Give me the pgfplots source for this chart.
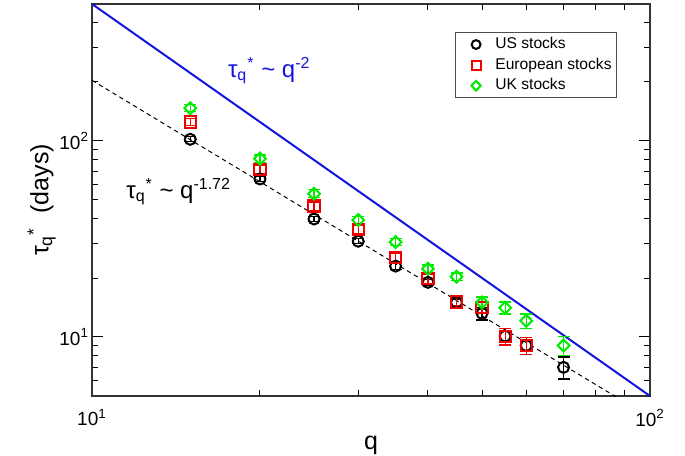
\documentclass[border=0pt]{standalone}
\usepackage{fontspec}
\setmainfont{Liberation Sans}
\usepackage{pgfplots}
\pgfplotsset{compat=1.18}
\definecolor{myblue}{RGB}{20,20,225}
\definecolor{mygreen}{RGB}{0,235,0}
\definecolor{myred}{RGB}{240,0,0}
\begin{document}
\begin{tikzpicture}
\begin{axis}[name=ax,
  xmode=log, ymode=log, scale only axis,
  width=279pt, height=196pt,
  xmin=10, xmax=100, ymin=5, ymax=500,
  xtick={10,100}, xticklabels={10\textsuperscript{1},10\textsuperscript{2}},
  ytick={10,100}, yticklabels={10\textsuperscript{1},10\textsuperscript{2}},
  minor xtick={20,30,40,50,60,70,80,90},
  minor ytick={6,7,8,9,20,30,40,50,60,70,80,90,200,300,400},
  tick align=inside,
  major tick length=5.5pt, minor tick length=3pt,
  tick style={black, line width=0.5pt},
  axis line style={line width=0.6pt, black!80},
  ticklabel style={font=\fontsize{9.5}{11}\selectfont},
  xticklabel style={yshift=-3pt},
  yticklabel style={xshift=2pt},
  xlabel={q}, ylabel={τ\textsubscript{q}\textsuperscript{*}\ \ (days)},
  label style={font=\fontsize{12.5}{14}\selectfont},
  xlabel style={yshift=2pt},
  ylabel style={yshift=-5pt},
  legend style={at={(0.941,0.929)}, anchor=north east,
    font=\fontsize{7.8}{9}\selectfont, draw=black!70, line width=0.5pt,
    row sep=2.5pt, inner xsep=2pt, inner ysep=2.2pt,
    nodes={inner xsep=0.5pt, inner ysep=0pt, text height=6pt, text depth=1.8pt},
    /tikz/every odd column/.append style={column sep=6.8pt}},
  legend image code/.code={\path (-1.5pt,0pt);
    \draw[mark repeat=2,mark phase=2,#1] plot coordinates {(0cm,0cm) (0.3cm,0cm) (0.6cm,0cm)};},
  legend image post style={scale=0.8},
  legend cell align=left,
  clip=true,
]
\addplot[myblue, line width=1pt, forget plot] coordinates {(10,500) (100,5)};
\addplot[black, line width=0.5pt, dash pattern=on 2.2pt off 1.8pt, forget plot] coordinates {(10,204) (100,3.89)};

\addplot[black, only marks, mark=o, mark size=2.75pt, mark options={line width=1pt},
  error bars/.cd, y dir=both, y explicit,
  error mark options={rotate=90, mark size=3pt, line width=0.6pt},
  error bar style={line width=0.6pt}]
  coordinates {
  (15,102) +- (0,3)
  (20,64) +- (0,2)
  (25,40) +- (0,1.2)
  (30,30.8) +- (0,0.9)
  (35,23) +- (0,0.8)
  (40,19) +- (0,0.7)
  (45,15) +- (0,0.5)
  (50,13.2) +- (0,1.0)
  (55,10.1) +- (0,0.6)
  (60,9.05) +- (0,0.6)
  (70,7.0) +- (0,0.9)
  };
\addlegendentry{US stocks}

\addplot[myred, only marks, mark=square, mark size=2.8pt, mark options={line width=1pt},
  error bars/.cd, y dir=both, y explicit,
  error mark options={rotate=90, mark size=3pt, line width=0.6pt},
  error bar style={line width=0.6pt}]
  coordinates {
  (15,125) +- (0,5)
  (20,71.6) +- (0,3.5)
  (25,46.6) +- (0,2.2)
  (30,35.4) +- (0,1.6)
  (35,25.4) +- (0,1.2)
  (40,19.8) +- (0,1.0)
  (45,15.1) +- (0,0.7)
  (50,14.2) +- (0,1.0)
  (55,10.1) +- (0,1.0)
  (60,9.05) +- (0,0.9)
  };
\addlegendentry{European stocks}

\addplot[mygreen, only marks, mark=diamond, mark size=3pt, mark options={line width=1pt, xscale=1.3},
  error bars/.cd, y dir=both, y explicit,
  error mark options={rotate=90, mark size=3pt, line width=0.6pt},
  error bar style={line width=0.6pt}]
  coordinates {
  (15,147) +- (0,6)
  (20,81.3) +- (0,3.5)
  (25,53.8) +- (0,2.5)
  (30,39.5) +- (0,1.8)
  (35,30.5) +- (0,1.3)
  (40,22.3) +- (0,1.0)
  (45,20.3) +- (0,0.9)
  (50,15.0) +- (0,1.0)
  (55,14.1) +- (0,1.0)
  (60,12.1) +- (0,1.0)
  (70,9.05) +- (0,1.0)
  };
\addlegendentry{UK stocks}

\node[myblue, anchor=west, font=\fontsize{12}{14}\selectfont, inner sep=0pt] at (axis cs:17.5,228)
  {τ\textsubscript{q}\textsuperscript{*} \textasciitilde\ q\textsuperscript{-2}};
\node[black, anchor=west, font=\fontsize{12}{14}\selectfont, inner sep=0pt] at (axis cs:11.5,55)
  {τ\textsubscript{q}\textsuperscript{*} \textasciitilde\ q\textsuperscript{-1.72}};
\end{axis}
\pgfresetboundingbox
\path ([xshift=-46pt,yshift=-29.5pt]ax.south west) rectangle ([xshift=17.5pt,yshift=2pt]ax.north east);
\end{tikzpicture}
\end{document}
